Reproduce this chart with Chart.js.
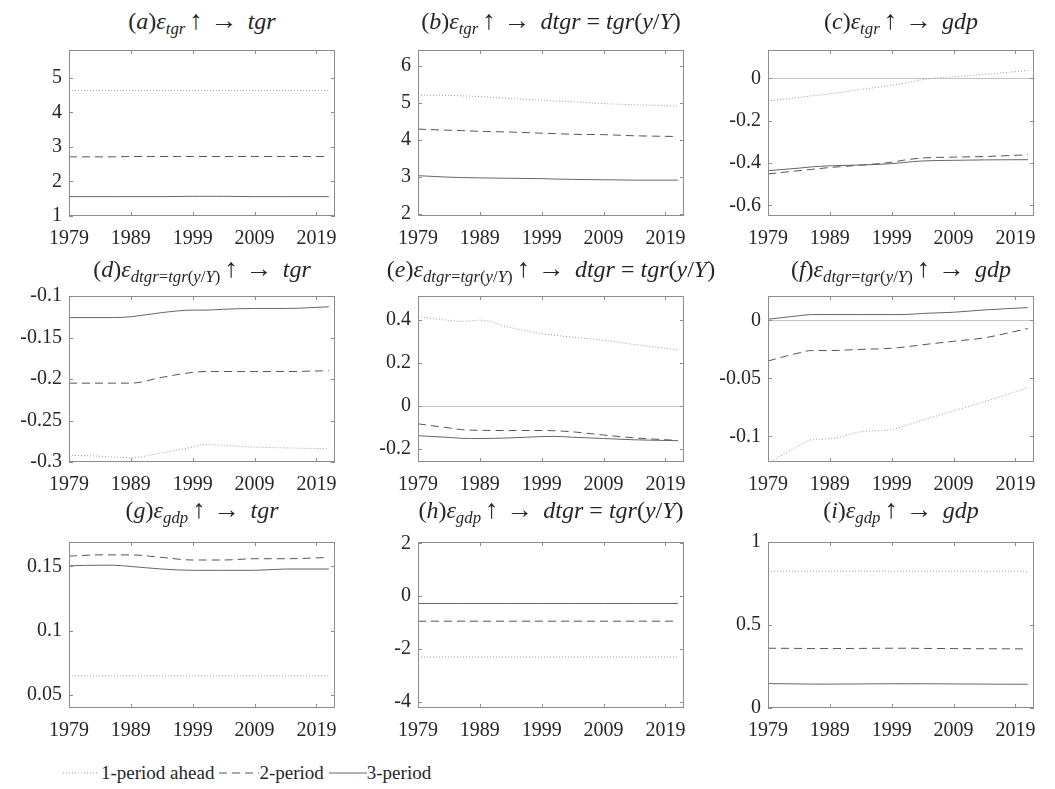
<!DOCTYPE html>
<html>
<head>
<meta charset="utf-8">
<script src="https://cdn.jsdelivr.net/npm/chart.js@4.4.1/dist/chart.umd.min.js"></script>
<style>
  body { margin: 0; background: #fff; }
  #fig { position: relative; width: 1055px; height: 789px; overflow: hidden;
         font-family: "Liberation Serif", "DejaVu Serif", serif; color: #262626; }
  .ttl { position: absolute; width: 440px; text-align: center; font-size: 24px;
         line-height: 24px; white-space: nowrap; }
  .ttl sub { font-size: 0.7em; vertical-align: -0.3em; line-height: 0; }
  .ttl .op { margin: 0 4px; font-size: 1.12em; line-height: 0; }
  .cv { position: absolute; }
  #legend { position: absolute; left: 63px; top: 762px; font-size: 19px; line-height: 22px;
            display: flex; align-items: center; white-space: nowrap; }
  #legend svg { display: block; }
</style>
</head>
<body>
<div id="fig">
  <div id="legend">
    <svg width="35" height="4"><line x1="0" y1="2" x2="35" y2="2" stroke="#9a9a9a" stroke-width="1" stroke-dasharray="1 2"/></svg>
    <span style="margin-left:3px">1-period ahead</span>
    <svg width="40" height="4" style="margin-left:5px"><line x1="0" y1="2" x2="40" y2="2" stroke="#555" stroke-width="1" stroke-dasharray="8 5"/></svg>
    <span>2-period</span>
    <svg width="38" height="4" style="margin-left:5px"><line x1="0" y1="2" x2="38" y2="2" stroke="#666" stroke-width="1"/></svg>
    <span>3-period</span>
  </div>
</div>
<script>
// sample years
const years = [1979, 1984, 1986, 1989, 1994, 1999, 2001, 2004, 2009, 2014, 2021];
const xTicks = [1979, 1989, 1999, 2009, 2019];
const xRange = [1979, 2022];

// (a) eps_tgr -> tgr
const aDotted = [4.63, 4.63, 4.63, 4.63, 4.63, 4.63, 4.63, 4.63, 4.63, 4.63, 4.63];
const aDashed = [2.71, 2.71, 2.71, 2.72, 2.72, 2.72, 2.72, 2.72, 2.72, 2.72, 2.72];
const aSolid  = [1.56, 1.56, 1.56, 1.56, 1.56, 1.57, 1.57, 1.57, 1.56, 1.56, 1.56];
const aTicks = [1, 2, 3, 4, 5];
const aRange = [1, 5.8];

// (b) eps_tgr -> dtgr
const bDotted = [5.21, 5.20, 5.19, 5.17, 5.12, 5.07, 5.05, 5.03, 4.98, 4.95, 4.91];
const bDashed = [4.29, 4.26, 4.25, 4.23, 4.21, 4.18, 4.17, 4.15, 4.14, 4.11, 4.09];
const bSolid  = [3.03, 2.99, 2.98, 2.97, 2.96, 2.95, 2.94, 2.93, 2.92, 2.91, 2.91];
const bTicks = [2, 3, 4, 5, 6];
const bRange = [1.94, 6.43];

// (c) eps_tgr -> gdp
const cDotted = [-0.107, -0.090, -0.083, -0.073, -0.052, -0.033, -0.024, -0.006, 0.008, 0.019, 0.037];
const cDashed = [-0.451, -0.436, -0.430, -0.421, -0.410, -0.396, -0.386, -0.376, -0.372, -0.369, -0.361];
const cSolid  = [-0.436, -0.424, -0.418, -0.413, -0.409, -0.403, -0.397, -0.390, -0.387, -0.385, -0.384];
const cTicks = [-0.6, -0.4, -0.2, 0];
const cRange = [-0.65, 0.134];

// (d) eps_dtgr -> tgr
const dDotted = [-0.292, -0.293, -0.294, -0.295, -0.289, -0.282, -0.279, -0.280, -0.282, -0.283, -0.284];
const dDashed = [-0.205, -0.205, -0.205, -0.205, -0.198, -0.192, -0.191, -0.191, -0.191, -0.191, -0.190];
const dSolid  = [-0.126, -0.126, -0.126, -0.125, -0.120, -0.117, -0.117, -0.116, -0.115, -0.115, -0.113];
const dTicks = [-0.3, -0.25, -0.2, -0.15, -0.1];
const dRange = [-0.3, -0.1];

// (e) eps_dtgr -> dtgr
const eDotted = [0.414, 0.397, 0.392, 0.398, 0.363, 0.335, 0.328, 0.319, 0.305, 0.285, 0.260];
const eDashed = [-0.083, -0.102, -0.110, -0.113, -0.114, -0.114, -0.115, -0.120, -0.135, -0.148, -0.160];
const eSolid  = [-0.138, -0.146, -0.150, -0.151, -0.148, -0.142, -0.141, -0.145, -0.151, -0.157, -0.161];
const eTicks = [-0.2, 0, 0.2, 0.4];
const eRange = [-0.26, 0.51];

// (f) eps_dtgr -> gdp
const fDotted = [-0.123, -0.108, -0.103, -0.102, -0.096, -0.094, -0.091, -0.086, -0.078, -0.070, -0.058];
const fDashed = [-0.035, -0.028, -0.026, -0.026, -0.025, -0.024, -0.023, -0.021, -0.018, -0.015, -0.007];
const fSolid  = [0.001, 0.004, 0.005, 0.005, 0.005, 0.005, 0.005, 0.006, 0.007, 0.009, 0.011];
const fTicks = [-0.1, -0.05, 0];
const fRange = [-0.122, 0.021];

// (g) eps_gdp -> tgr
const gDotted = [0.065, 0.065, 0.065, 0.065, 0.065, 0.065, 0.065, 0.065, 0.065, 0.065, 0.065];
const gDashed = [0.158, 0.159, 0.159, 0.159, 0.157, 0.155, 0.155, 0.155, 0.156, 0.156, 0.157];
const gSolid  = [0.1505, 0.151, 0.151, 0.150, 0.148, 0.147, 0.147, 0.147, 0.147, 0.148, 0.148];
const gTicks = [0.05, 0.1, 0.15];
const gRange = [0.04, 0.169];

// (h) eps_gdp -> dtgr
const hDotted = [-2.31, -2.31, -2.31, -2.31, -2.31, -2.31, -2.31, -2.31, -2.31, -2.31, -2.31];
const hDashed = [-0.95, -0.95, -0.95, -0.95, -0.95, -0.95, -0.95, -0.95, -0.95, -0.95, -0.95];
const hSolid  = [-0.28, -0.28, -0.28, -0.28, -0.28, -0.28, -0.28, -0.28, -0.28, -0.28, -0.28];
const hTicks = [-4, -2, 0, 2];
const hRange = [-4.24, 2.05];

// (i) eps_gdp -> gdp
const iDotted = [0.824, 0.824, 0.824, 0.824, 0.824, 0.824, 0.824, 0.824, 0.824, 0.824, 0.824];
const iDashed = [0.360, 0.359, 0.358, 0.358, 0.359, 0.360, 0.360, 0.359, 0.358, 0.357, 0.356];
const iSolid  = [0.147, 0.145, 0.144, 0.144, 0.145, 0.146, 0.146, 0.146, 0.145, 0.144, 0.143];
const iTicks = [0, 0.5, 1];
const iRange = [0, 1];

const sub1 = "<sub><i>tgr</i></sub>";
const sub2 = "<sub><i>dtgr</i>=<i>tgr</i>(<i>y</i>/<i>Y</i>)</sub>";
const sub3 = "<sub><i>gdp</i></sub>";
const tgt1 = "<i>tgr</i>";
const tgt2 = "<i>dtgr</i> = <i>tgr</i>(<i>y</i>/<i>Y</i>)";
const tgt3 = "<i>gdp</i>";
const mkTitle = (l, s, t) =>
  `(<i>${l}</i>)<i>ε</i>${s}<span class="op">↑</span><span class="op">→</span>&nbsp;${t}`;

const panels = [
  { t: mkTitle("a", sub1, tgt1), s: [aDotted, aDashed, aSolid], ticks: aTicks, r: aRange },
  { t: mkTitle("b", sub1, tgt2), s: [bDotted, bDashed, bSolid], ticks: bTicks, r: bRange },
  { t: mkTitle("c", sub1, tgt3), s: [cDotted, cDashed, cSolid], ticks: cTicks, r: cRange, zero: true },
  { t: mkTitle("d", sub2, tgt1), s: [dDotted, dDashed, dSolid], ticks: dTicks, r: dRange },
  { t: mkTitle("e", sub2, tgt2), s: [eDotted, eDashed, eSolid], ticks: eTicks, r: eRange, zero: true },
  { t: mkTitle("f", sub2, tgt3), s: [fDotted, fDashed, fSolid], ticks: fTicks, r: fRange, zero: true },
  { t: mkTitle("g", sub3, tgt1), s: [gDotted, gDashed, gSolid], ticks: gTicks, r: gRange },
  { t: mkTitle("h", sub3, tgt2), s: [hDotted, hDashed, hSolid], ticks: hTicks, r: hRange },
  { t: mkTitle("i", sub3, tgt3), s: [iDotted, iDashed, iSolid], ticks: iTicks, r: iRange },
];

// geometry of the plot boxes
const colLeft = [69, 418, 768];
const rowTop = [41, 287, 533];
const titleTop = [9, 257, 498];
const plotW = 266, plotH = 175;
const axisW = 69, padTop = 10, padRight = 14, axisH = 40;

const lineStyles = [
  { borderColor: "#9a9a9a", borderDash: [1, 2] },
  { borderColor: "#555555", borderDash: [8, 5] },
  { borderColor: "#666666", borderDash: [] },
];

const boxPlugin = {
  id: "box",
  beforeDatasetsDraw(chart, args, opts) {
    if (!opts.zero) return;
    const { ctx, chartArea: { left, right }, scales: { y } } = chart;
    const y0 = Math.round(y.getPixelForValue(0)) + 0.5;
    ctx.save();
    ctx.strokeStyle = "#c4c4c4";
    ctx.lineWidth = 1;
    ctx.beginPath();
    ctx.moveTo(left, y0);
    ctx.lineTo(right, y0);
    ctx.stroke();
    ctx.restore();
  },
  afterDraw(chart) {
    const { ctx, chartArea: { left, right, top, bottom }, scales: { x, y } } = chart;
    ctx.save();
    ctx.strokeStyle = "#8c8c8c";
    ctx.lineWidth = 1;
    ctx.strokeRect(left + 0.5, top + 0.5, right - left - 1, bottom - top - 1);
    ctx.beginPath();
    x.ticks.forEach((t) => {
      const px = Math.round(x.getPixelForValue(t.value)) + 0.5;
      ctx.moveTo(px, bottom); ctx.lineTo(px, bottom - 4);
      ctx.moveTo(px, top); ctx.lineTo(px, top + 4);
    });
    y.ticks.forEach((t) => {
      const py = Math.round(y.getPixelForValue(t.value)) + 0.5;
      ctx.moveTo(left, py); ctx.lineTo(left + 4, py);
      ctx.moveTo(right, py); ctx.lineTo(right - 4, py);
    });
    ctx.stroke();
    ctx.restore();
  },
};

const fig = document.getElementById("fig");
const tickFont = { family: "'Liberation Serif', 'DejaVu Serif', serif", size: 20 };

panels.forEach((p, k) => {
  const col = k % 3, row = Math.floor(k / 3);
  const cx = colLeft[col] + plotW / 2;

  const title = document.createElement("div");
  title.className = "ttl";
  title.style.left = cx - 220 + "px";
  title.style.top = titleTop[row] + "px";
  title.innerHTML = p.t;
  fig.appendChild(title);

  const cv = document.createElement("canvas");
  cv.className = "cv";
  const w = axisW + plotW + padRight;
  const h = padTop + plotH + axisH;
  cv.width = w; cv.height = h;
  cv.style.left = colLeft[col] - axisW + "px";
  cv.style.top = rowTop[row] - padTop + "px";
  fig.appendChild(cv);

  new Chart(cv.getContext("2d"), {
    type: "line",
    data: {
      datasets: p.s.map((vals, j) => ({
        data: years.map((yr, i) => ({ x: yr, y: vals[i] })),
        borderWidth: 1,
        pointRadius: 0,
        cubicInterpolationMode: "monotone",
        ...lineStyles[j],
      })),
    },
    options: {
      responsive: false,
      animation: false,
      devicePixelRatio: 1,
      layout: { padding: { top: padTop, right: padRight, left: 0, bottom: 0 } },
      plugins: { legend: { display: false }, tooltip: { enabled: false }, box: { zero: !!p.zero } },
      scales: {
        x: {
          type: "linear",
          min: xRange[0], max: xRange[1],
          afterBuildTicks: (s) => { s.ticks = xTicks.map((v) => ({ value: v })); },
          afterFit: (s) => { s.height = axisH; },
          grid: { display: false, drawTicks: false },
          border: { display: false },
          ticks: { font: tickFont, color: "#262626", padding: 11, maxRotation: 0, callback: (v) => String(v) },
        },
        y: {
          min: p.r[0], max: p.r[1],
          afterBuildTicks: (s) => { s.ticks = p.ticks.map((v) => ({ value: v })); },
          afterFit: (s) => { s.width = axisW; },
          grid: { display: false, drawTicks: false },
          border: { display: false },
          ticks: { font: tickFont, color: "#262626", padding: 7, callback: (v) => String(v) },
        },
      },
    },
    plugins: [boxPlugin],
  });
});
</script>
</body>
</html>
